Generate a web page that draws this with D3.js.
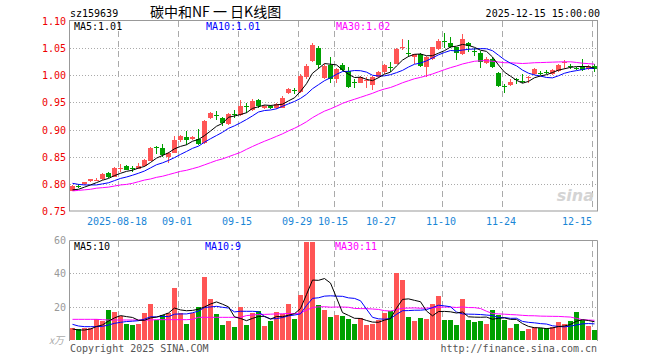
<!DOCTYPE html>
<html><head><meta charset="utf-8">
<script src="https://cdn.jsdelivr.net/npm/d3@7"></script>
<style>body{margin:0;background:#fff}svg text{font-family:"DejaVu Sans Mono",monospace;font-size:10px}</style>
</head><body><svg id="c" width="660" height="360"></svg>
<script>
const dates = ["2025-08-06","2025-08-07","2025-08-08","2025-08-11","2025-08-12","2025-08-13","2025-08-14","2025-08-15","2025-08-18","2025-08-19","2025-08-20","2025-08-21","2025-08-22","2025-08-25","2025-08-26","2025-08-27","2025-08-28","2025-08-29",
"2025-09-01","2025-09-02","2025-09-03","2025-09-04","2025-09-05","2025-09-08","2025-09-09","2025-09-10","2025-09-11","2025-09-12","2025-09-15","2025-09-16","2025-09-17","2025-09-18","2025-09-19","2025-09-22","2025-09-23","2025-09-24","2025-09-25","2025-09-26","2025-09-29","2025-09-30",
"2025-10-09","2025-10-10","2025-10-13","2025-10-14","2025-10-15","2025-10-16","2025-10-17","2025-10-20","2025-10-21","2025-10-22","2025-10-23","2025-10-24","2025-10-27","2025-10-28","2025-10-29","2025-10-30","2025-10-31",
"2025-11-03","2025-11-04","2025-11-05","2025-11-06","2025-11-07","2025-11-10","2025-11-11","2025-11-12","2025-11-13","2025-11-14","2025-11-17","2025-11-18","2025-11-19","2025-11-20","2025-11-21","2025-11-24","2025-11-25","2025-11-26","2025-11-27","2025-11-28",
"2025-12-01","2025-12-02","2025-12-03","2025-12-04","2025-12-05","2025-12-08","2025-12-09","2025-12-10","2025-12-11","2025-12-12","2025-12-15"];

const openP = [0.7877,0.7965,0.7995,0.8050,0.8060,0.8085,0.8205,0.8135,0.8285,0.8320,0.8300,0.8280,0.8320,0.8430,0.8675,0.8655,0.8490,0.8575,0.8800,0.8860,0.8820,0.8820,0.8760,0.9215,0.9260,0.9210,0.9105,0.9290,0.9270,0.9430,0.9360,0.9550,0.9390,0.9430,0.9395,0.9405,0.9670,0.9730,0.9700,0.9970,1.0267,1.0510,0.9947,1.0193,0.9940,1.0187,1.0070,0.9880,0.9867,0.9905,0.9824,0.9972,1.0052,1.0155,1.0217,1.0505,1.0410,1.0328,1.0389,1.0144,1.0297,1.0482,1.0630,1.0586,1.0512,1.0387,1.0590,1.0450,1.0418,1.0233,1.0307,1.0050,0.9795,0.9816,0.9930,0.9900,0.9955,1.0018,1.0050,1.0068,1.0030,1.0080,1.0240,1.0177,1.0140,1.0170,1.0110,1.0170];
const highP = [0.7975,0.7995,0.8040,0.8095,0.8100,0.8200,0.8225,0.8310,0.8370,0.8340,0.8330,0.8390,0.8460,0.8680,0.8705,0.8740,0.8590,0.8880,0.8900,0.8965,0.8880,0.9005,0.9180,0.9330,0.9340,0.9240,0.9310,0.9360,0.9550,0.9485,0.9560,0.9570,0.9460,0.9460,0.9490,0.9610,0.9770,0.9775,1.0020,1.0200,1.0586,1.0540,1.0200,1.0340,1.0140,1.0220,1.0156,0.9929,0.9980,0.9960,0.9990,1.0080,1.0210,1.0248,1.0500,1.0666,1.0647,1.0400,1.0410,1.0350,1.0530,1.0660,1.0770,1.0697,1.0530,1.0756,1.0614,1.0510,1.0450,1.0340,1.0330,1.0060,0.9834,0.9926,0.9957,1.0018,0.9988,1.0140,1.0080,1.0090,1.0110,1.0200,1.0276,1.0215,1.0160,1.0295,1.0190,1.0200];
const lowP = [0.7865,0.7920,0.7980,0.8040,0.8050,0.8080,0.8105,0.8120,0.8225,0.8250,0.8210,0.8270,0.8310,0.8420,0.8550,0.8500,0.8390,0.8560,0.8780,0.8720,0.8800,0.8720,0.8735,0.9190,0.9180,0.9060,0.9080,0.9210,0.9250,0.9300,0.9350,0.9400,0.9370,0.9370,0.9380,0.9390,0.9650,0.9655,0.9670,0.9940,1.0240,1.0110,0.9930,0.9867,0.9867,1.0080,0.9770,0.9775,0.9850,0.9775,0.9726,0.9950,1.0030,1.0052,1.0200,1.0463,1.0328,1.0205,1.0160,0.9972,1.0280,1.0460,1.0510,1.0500,1.0280,1.0370,1.0430,1.0356,1.0140,1.0200,1.0140,0.9780,0.9680,0.9800,0.9834,0.9865,0.9865,1.0000,1.0010,1.0020,1.0010,1.0060,1.0110,1.0110,1.0090,1.0080,1.0090,1.0060];
const closeP = [0.7963,0.7955,0.8030,0.8085,0.8080,0.8185,0.8120,0.8290,0.8295,0.8260,0.8290,0.8320,0.8440,0.8660,0.8660,0.8535,0.8565,0.8810,0.8880,0.8810,0.8860,0.8730,0.9165,0.9300,0.9250,0.9130,0.9290,0.9280,0.9435,0.9415,0.9530,0.9440,0.9440,0.9395,0.9470,0.9590,0.9750,0.9720,0.9990,1.0174,1.0555,1.0187,1.0174,0.9929,1.0113,1.0095,0.9787,0.9870,0.9960,0.9915,0.9972,1.0064,1.0193,1.0145,1.0482,1.0515,1.0400,1.0389,1.0174,1.0328,1.0512,1.0635,1.0620,1.0512,1.0402,1.0676,1.0540,1.0445,1.0246,1.0295,1.0160,0.9800,0.9785,0.9877,0.9920,0.9890,0.9965,1.0123,1.0040,1.0037,1.0090,1.0184,1.0250,1.0167,1.0110,1.0098,1.0170,1.0110];
const volume = [7,6.5,7,7.5,12.6,11.6,18,16.6,14.4,9.6,9,9.6,16.4,21.6,12,15,16,31.2,16,9.6,16,19.6,38,24.8,15.8,9.2,11.6,8,20,9.2,16,17.4,8.4,11.6,17,15.6,21.8,12.8,27.2,59,59,21,18.2,13.6,15,14.4,12.6,9.6,13,9,9.6,12,16,17.4,40.4,36,13.6,11.6,13.2,12.6,21.6,26.4,12,12,9,24.6,12,11,11.6,9.6,18,15,12,7.2,9.6,5.4,6.6,8,7,7,7.6,10.8,9.6,11.6,16.8,12,8.4,6];

// moving-average values for the days before a full window exists
const ma5Head = [0.789,0.790,0.794,0.798];
const ma10Head = [0.801,0.799,0.798,0.798,0.798,0.800,0.802,0.806,0.810];
const ma30Head = [0.787,0.788,0.789,0.790,0.792,0.793,0.794,0.796,0.798,0.799,0.801,0.804,0.807,0.809,0.812,0.814,0.817,0.820,0.823,0.825,0.828,0.831,0.835,0.839,0.843,0.846,0.850,0.854,0.858];
const vma5Head = [6.6,6.0,6.0,6.6];
const vma10Head = [9.4,8.4,8.0,8.0,8.0,8.2,9.0,10.0,10.6];
const vma30Head = [12.4,12.4,12.4,12.4,12.4,12.2,12.0,12.0,12.0,12.0,12.0,12.0,12.0,12.0,12.2,12.2,12.2,12.2,12.2,12.2,12.4,13.6,13.6,13.6,13.6,13.6,13.6,13.6,13.6];

const priceTicks = [0.75,0.80,0.85,0.90,0.95,1.00,1.05,1.10];
const volTicks = [20,40,60];
const tickDates = ["2025-08-18","2025-09-01","2025-09-15","2025-09-29","2025-10-15","2025-10-27","2025-11-10","2025-11-24","2025-12-15"];
const tickLabels = ["2025-08-18","09-01","09-15","09-29","10-15","10-27","11-10","11-24","12-15"];

const UP = "#ff5555", DOWN = "#00a000";

function movingAvg(vals, n, head) {
  return vals.map((v, i) => i < head.length ? head[i] : d3.mean(vals.slice(i - n + 1, i + 1)));
}
const ma5 = movingAvg(closeP, 5, ma5Head), ma10 = movingAvg(closeP, 10, ma10Head), ma30 = movingAvg(closeP, 30, ma30Head);
const vma5 = movingAvg(volume, 5, vma5Head), vma10 = movingAvg(volume, 10, vma10Head), vma30 = movingAvg(volume, 30, vma30Head);

const svg = d3.select("#c");
const L = 70, R = 597;
const x = d3.scaleBand().domain(dates).range([L, R]).paddingInner(1/6).paddingOuter(0);
const bw = x.bandwidth();
const cx = d => x(d) + bw / 2;
const y = d3.scaleLinear().domain([0.75, 1.10]).range([211, 21]);
const yv = d3.scaleLinear().domain([0, 60]).range([340, 240]);

svg.append("defs").append("clipPath").attr("id", "clipMain")
  .append("rect").attr("x", L).attr("y", 21).attr("width", R - L + 1).attr("height", 190);
svg.select("defs").append("clipPath").attr("id", "clipVol")
  .append("rect").attr("x", L).attr("y", 240.5).attr("width", R - L + 1).attr("height", 100);

// grids
const grid = svg.append("g").attr("stroke", "#aaa").attr("stroke-width", 1);
grid.selectAll(".hp").data(priceTicks.slice(1, -1)).join("line")
  .attr("x1", L).attr("x2", R).attr("y1", d => Math.round(y(d)) + 0.5).attr("y2", d => Math.round(y(d)) + 0.5)
  .attr("stroke-dasharray", "1,2");
grid.selectAll(".hv").data(volTicks.slice(0, -1)).join("line")
  .attr("x1", L).attr("x2", R).attr("y1", d => Math.round(yv(d)) + 0.5).attr("y2", d => Math.round(yv(d)) + 0.5)
  .attr("stroke-dasharray", "1,2");
grid.selectAll(".vp").data(tickDates).join("line")
  .attr("x1", d => x(d) + 0.5).attr("x2", d => x(d) + 0.5).attr("y1", 21).attr("y2", 211)
  .attr("stroke-dasharray", "6,4");
grid.selectAll(".vv").data(tickDates).join("line")
  .attr("x1", d => x(d) + 0.5).attr("x2", d => x(d) + 0.5).attr("y1", 241).attr("y2", 340)
  .attr("stroke-dasharray", "6,4");

// candles
const idx = d3.range(dates.length);
const cg = svg.append("g").attr("clip-path", "url(#clipMain)").attr("shape-rendering", "crispEdges");
cg.selectAll(".wick").data(idx).join("rect")
  .attr("x", i => Math.floor(cx(dates[i]))).attr("width", 1)
  .attr("y", i => y(highP[i])).attr("height", i => Math.max(1, y(lowP[i]) - y(highP[i])))
  .attr("fill", i => closeP[i] >= openP[i] ? UP : DOWN);
cg.selectAll(".body").data(idx).join("rect")
  .attr("x", i => x(dates[i])).attr("width", bw)
  .attr("y", i => y(Math.max(openP[i], closeP[i])))
  .attr("height", i => Math.max(1, Math.abs(y(openP[i]) - y(closeP[i]))))
  .attr("fill", i => closeP[i] >= openP[i] ? UP : DOWN);

// volume bars
const vg = svg.append("g").attr("clip-path", "url(#clipVol)").attr("shape-rendering", "crispEdges");
vg.selectAll("rect").data(idx).join("rect")
  .attr("x", i => x(dates[i])).attr("width", bw)
  .attr("y", i => yv(volume[i])).attr("height", i => yv(0) - yv(volume[i]))
  .attr("fill", i => closeP[i] >= openP[i] ? UP : DOWN);

// MA lines
function drawLine(g, vals, sc, color) {
  g.append("path").datum(vals)
    .attr("d", d3.line().x((d, i) => cx(dates[i])).y(d => sc(d)))
    .attr("fill", "none").attr("stroke", color).attr("stroke-width", 1);
}
const mg = svg.append("g").attr("clip-path", "url(#clipMain)");
drawLine(mg, ma30, y, "#ff00ff"); drawLine(mg, ma10, y, "#0000ff"); drawLine(mg, ma5, y, "#000");
const mv = svg.append("g").attr("clip-path", "url(#clipVol)");
drawLine(mv, vma30, yv, "#ff00ff"); drawLine(mv, vma10, yv, "#0000ff"); drawLine(mv, vma5, yv, "#000");

// borders
svg.append("rect").attr("x", L - 0.5).attr("y", 20.5).attr("width", R - L + 1).attr("height", 190.5)
  .attr("fill", "none").attr("stroke", "#999").attr("stroke-width", 1);
svg.append("path").attr("d", `M${L - 0.5},341V240.5H${R + 0.5}V341`)
  .attr("fill", "none").attr("stroke", "#999").attr("stroke-width", 1);

// axes labels
svg.append("g").selectAll("text").data(priceTicks).join("text")
  .attr("x", 66).attr("y", d => y(d) + 4).attr("text-anchor", "end").attr("fill", "#e00")
  .text(d => d.toFixed(2));
svg.append("g").selectAll("text").data(volTicks).join("text")
  .attr("x", 66).attr("y", d => yv(d) + 4).attr("text-anchor", "end").attr("fill", "#999")
  .text(d => d);
svg.append("text").attr("x", 64).attr("y", 344).attr("text-anchor", "end").attr("fill", "#aaa")
  .style("font-family", "'Noto Sans CJK SC',sans-serif").style("font-size", "10px").style("font-style", "italic").text("x万");
svg.append("g").selectAll("text").data(tickDates).join("text")
  .attr("x", (d, i) => i === tickDates.length - 1 ? x(d) : x(d) - 1)
  .attr("y", 225)
  .attr("text-anchor", (d, i) => i === tickDates.length - 1 ? "end" : "middle")
  .attr("fill", "#1a86d6").text((d, i) => tickLabels[i]);

// titles
svg.append("text").attr("x", 70).attr("y", 16.5).attr("fill", "#000").text("sz159639");
svg.append("text").attr("x", 150).attr("y", 17).attr("fill", "#000")
  .style("font-family", "'Noto Sans CJK SC',sans-serif").style("font-size", "14px").text("碳中和NF 一 日K线图");
svg.append("text").attr("x", 600).attr("y", 16.5).attr("text-anchor", "end").attr("fill", "#000").text("2025-12-15 15:00:00");

// legends
const last = a => a[a.length - 1];
svg.append("text").attr("x", 74).attr("y", 30).attr("fill", "#000").text("MA5:" + last(ma5).toFixed(2));
svg.append("text").attr("x", 206).attr("y", 30).attr("fill", "#0000ff").text("MA10:" + last(ma10).toFixed(2));
svg.append("text").attr("x", 336).attr("y", 30).attr("fill", "#ff00ff").text("MA30:" + last(ma30).toFixed(2));
svg.append("text").attr("x", 74).attr("y", 250).attr("fill", "#000").text("MA5:" + Math.floor(last(vma5)));
svg.append("text").attr("x", 205).attr("y", 250).attr("fill", "#0000ff").text("MA10:" + Math.floor(last(vma10)));
svg.append("text").attr("x", 335).attr("y", 250).attr("fill", "#ff00ff").text("MA30:" + Math.floor(last(vma30)));

// watermark & footer
svg.append("text").attr("x", 594).attr("y", 201).attr("text-anchor", "end").attr("fill", "#d4d4d4")
  .style("font-family", "'DejaVu Sans',sans-serif").style("font-size", "16px").style("font-weight", "bold").style("font-style", "italic").text("sina");
svg.append("text").attr("x", 70).attr("y", 352).attr("fill", "#555").text("Copyright 2025 SINA.COM");
svg.append("text").attr("x", 597).attr("y", 352).attr("text-anchor", "end").attr("fill", "#555").text("http://finance.sina.com.cn");
</script>
</body></html>
